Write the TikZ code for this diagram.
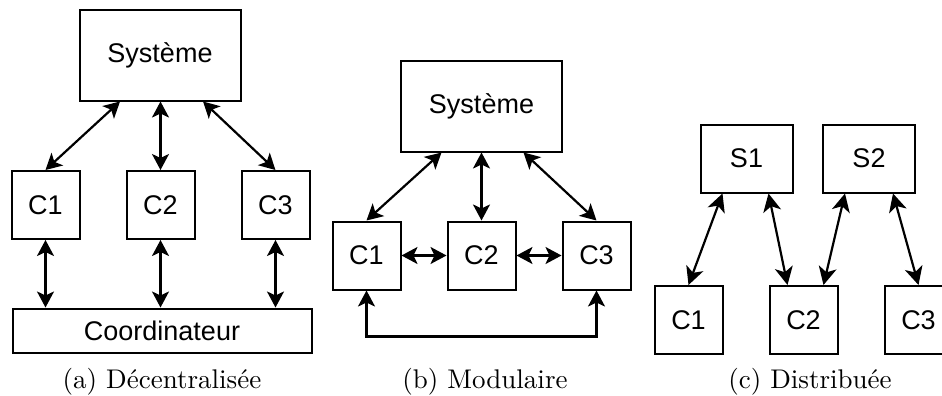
\documentclass[tikz,border=0pt]{standalone}
\usepackage{fontspec}
\setsansfont{Liberation Sans}
\newfontfamily\capfont[Extension=.otf]{lmroman10-regular}
\usetikzlibrary{positioning, arrows.meta}

\begin{document}
\begin{tikzpicture}[x=0.5pt, y=-0.5pt, every node/.style={draw, line width=1pt, inner sep=0pt, font=\sffamily\fontsize{13.5}{16}\selectfont}, node distance=57.5pt, align=center,
    sysbox/.style={minimum width=80.5pt, minimum height=45.5pt},
    cbox/.style={minimum width=34pt, minimum height=34pt},
    sbox/.style={minimum width=46pt, minimum height=34pt},
    link/.style={{Stealth[length=8pt, width=8.5pt, inset=2pt]}-{Stealth[length=8pt, width=8.5pt, inset=2pt]}, line width=1.1pt},
    biglink/.style={{Stealth[length=9pt, width=9pt, inset=2.5pt]}-{Stealth[length=9pt, width=9pt, inset=2.5pt]}, line width=1.1pt},
    caption/.style={draw=none, anchor=base, font=\capfont\fontsize{13.5}{16}\selectfont}]
    \useasboundingbox (0,0) rectangle (942,396);

    % (a) decentralisee
    \node (sysa)  [sysbox]              at (160,55)    {Système};
    \node (c1a)   [cbox]                at (45.5,205)  {C1};
    \node (c2a)   [cbox, right of=c1a]                 {C2};
    \node (c3a)   [cbox, right of=c2a]                 {C3};
    \node (coord) [minimum width=149.5pt, minimum height=22pt] at (162,330.5) {Coordinateur};
    \node (capa)  [caption]             at (162,388)   {(a) Décentralisée};

    \draw[link] ([xshift=-20pt]sysa.south) -- (c1a.north);
    \draw[link] (c2a.north |- sysa.south)  -- (c2a.north);
    \draw[link] ([xshift=21.5pt]sysa.south) -- (c3a.north);

    \draw[link] (c1a) -- (c1a |- coord.north);
    \draw[link] (c2a) -- (c2a |- coord.north);
    \draw[link] (c3a) -- (c3a |- coord.north);

    % (b) modulaire
    \node (sysb)  [sysbox]              at (481.5,106) {Système};
    \node (c1b)   [cbox]                at (366.5,255.5) {C1};
    \node (c2b)   [cbox, right of=c1b]                 {C2};
    \node (c3b)   [cbox, right of=c2b]                 {C3};
    \node (capb)  [caption]             at (485,388)   {(b) Modulaire};

    \draw[link] ([xshift=-20pt]sysb.south) -- (c1b.north);
    \draw[link] (c2b.north |- sysb.south)  -- (c2b.north);
    \draw[link] ([xshift=21pt]sysb.south)  -- (c3b.north);

    \draw[link] (c1b.east) -- (c2b.west);
    \draw[link] (c2b.east) -- (c3b.west);
    \draw[link] (c1b.south) -- ++(0,-23pt) -| (c3b.south);

    % (c) distribuee
    \node (s1)    [sbox]                at (746.5,158.5) {S1};
    \node (s2)    [sbox]                at (869,158.5)   {S2};
    \node (c1c)   [cbox]                at (688.5,320)   {C1};
    \node (c2c)   [cbox, right of=c1c]                   {C2};
    \node (c3c)   [cbox, right of=c2c]                   {C3};
    \node (capc)  [caption]             at (810,388)     {(c) Distribuée};

    \draw[biglink] ([xshift=-12pt]s1.south) -- (c1c.north);
    \draw[biglink] ([xshift=11pt]s1.south)  -- ([xshift=-8pt]c2c.north);
    \draw[biglink] ([xshift=-12pt]s2.south) -- ([xshift=10pt]c2c.north);
    \draw[biglink] ([xshift=12pt]s2.south)  -- (c3c.north);
\end{tikzpicture}
\end{document}
